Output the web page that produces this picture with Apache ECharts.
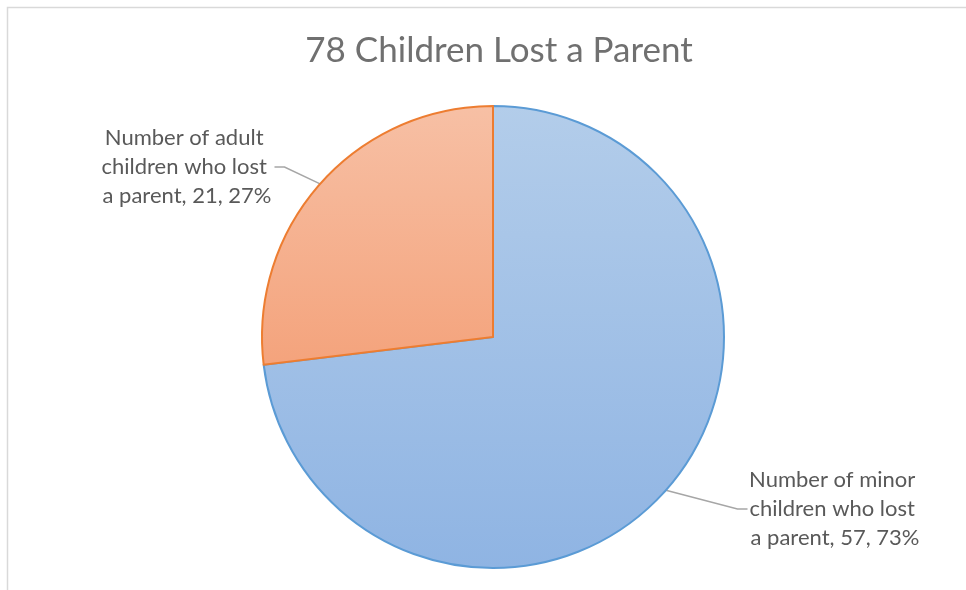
<!DOCTYPE html>
<html>
<head>
<meta charset="utf-8">
<script src="https://cdn.jsdelivr.net/npm/echarts@6/dist/echarts.min.js"></script>
<style>
html,body{margin:0;padding:0;background:#fff;}
#chart{width:966px;height:590px;}
</style>
</head>
<body>
<div id="chart"></div>
<script>
const titleText = '78 Children Lost a Parent';
const categories = ['Number of minor children who lost a parent', 'Number of adult children who lost a parent'];
const values = [57, 21];

const fills = [
  ['#b3cdea', '#8fb4e3'],
  ['#f7c0a5', '#f4a37c']
];
const borders = ['#5b9bd5', '#ed7d31'];
const labelCenters = [[835, 509], [187, 167]];

const chart = echarts.init(document.getElementById('chart'));
chart.setOption({
  backgroundColor: '#ffffff',
  animation: false,
  graphic: [{
    type: 'rect',
    shape: {x: 7.5, y: 7.5, width: 1200, height: 1200},
    style: {fill: 'none', stroke: '#d9d9d9', lineWidth: 1.5},
    silent: true,
    z: -1
  }],
  title: {
    text: titleText,
    left: 494,
    textAlign: 'center',
    top: 28,
    textStyle: {
      fontFamily: 'Lato',
      fontSize: 35,
      fontWeight: 'normal',
      color: '#707070'
    }
  },
  series: [{
    type: 'pie',
    center: [493, 337],
    radius: 231,
    startAngle: 90,
    clockwise: true,
    avoidLabelOverlap: false,
    data: categories.map((c, i) => ({
      name: c,
      value: values[i],
      itemStyle: {
        color: new echarts.graphic.LinearGradient(0, 0, 0, 1, [
          {offset: 0, color: fills[i][0]},
          {offset: 1, color: fills[i][1]}
        ]),
        borderColor: borders[i],
        borderWidth: 2
      }
    })),
    label: {
      show: true,
      position: 'outside',
      formatter: p => p.name + ', ' + p.value + ', ' + Math.round(p.percent) + '%',
      fontFamily: 'Lato',
      fontSize: 22,
      lineHeight: 29,
      color: '#595959',
      width: 175,
      overflow: 'break',
      align: 'center'
    },
    labelLine: {
      show: true,
      length: 10,
      length2: 10,
      lineStyle: {color: '#a6a6a6', width: 1.5}
    },
    labelLayout: function (params) {
      const c = labelCenters[params.dataIndex];
      return {x: c[0], y: c[1], align: 'center', verticalAlign: 'middle'};
    },
    emphasis: {disabled: true}
  }]
});
</script>
</body>
</html>
